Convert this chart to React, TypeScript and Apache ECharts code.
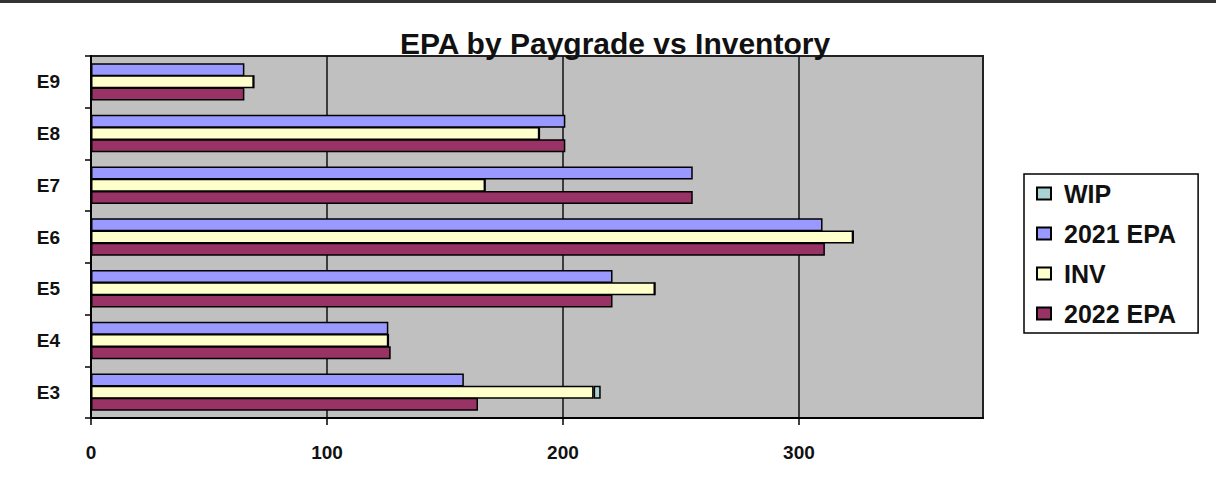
import React, { useEffect, useRef } from "react";
import * as echarts from "echarts";

const categories = ["E3", "E4", "E5", "E6", "E7", "E8", "E9"];
const epa2022 = [164, 127, 221, 311, 255, 201, 65];
const inv = [213, 126, 239, 323, 167, 190, 69];
const wip = [3, 0, 0, 0, 0, 0, 0];
const epa2021 = [158, 126, 221, 310, 255, 201, 65];
const xTicks = [0, 100, 200, 300];

export default function App() {
  const ref = useRef<HTMLDivElement>(null);
  useEffect(() => {
    document.body.style.margin = "0";
    const chart = echarts.init(ref.current!, null, { renderer: "svg" });
    const font = "Liberation Sans, Arial, sans-serif";
    const border = { borderColor: "#000", borderWidth: 1.5 };
    const bw = 13;
    const gap = "-6%";
    chart.setOption({
      animation: false,
      backgroundColor: "#fff",
      title: {
        text: "EPA by Paygrade vs Inventory",
        left: 610,
        textAlign: "center",
        top: 23,
        textStyle: { fontFamily: font, fontSize: 30, fontWeight: "bold", color: "#111" },
      },
      graphic: [
        { type: "rect", shape: { x: 0, y: 0, width: 1216, height: 3 }, style: { fill: "#333" } },
      ],
      legend: {
        orient: "vertical",
        left: 1024,
        top: 174,
        data: ["WIP", "2021 EPA", "INV", "2022 EPA"],
        itemWidth: 14,
        itemHeight: 12,
        itemGap: 15,
        icon: "rect",
        padding: [7, 22, 7, 12],
        borderColor: "#000",
        borderWidth: 1.5,
        textStyle: { fontFamily: font, fontSize: 25, fontWeight: "bold", color: "#111", padding: [0, 0, 0, 8] },
      },
      grid: {
        left: 91,
        right: 233,
        top: 56,
        bottom: 72,
        show: true,
        backgroundColor: "#C0C0C0",
        borderColor: "#222",
        borderWidth: 2,
      },
      xAxis: {
        type: "value",
        min: 0,
        max: 378,
        interval: 100,
        axisLine: { show: true, lineStyle: { color: "#000", width: 2 } },
        axisTick: { show: true, length: 7, customValues: xTicks, lineStyle: { color: "#000", width: 1.5 } },
        axisLabel: {
          customValues: xTicks,
          margin: 25,
          fontFamily: font,
          fontSize: 19,
          fontWeight: "bold",
          color: "#111",
        },
        splitLine: { show: true, lineStyle: { color: "#111", width: 1.5 } },
      },
      yAxis: {
        type: "category",
        data: categories,
        axisLine: { show: true, lineStyle: { color: "#000", width: 2 } },
        axisTick: { show: true, length: 6, lineStyle: { color: "#000", width: 1.5 } },
        axisLabel: { margin: 31, fontFamily: font, fontSize: 19, fontWeight: "bold", color: "#111" },
        splitLine: { show: false },
      },
      series: [
        { name: "2021 EPA", type: "bar", data: epa2021, barWidth: bw, barGap: gap, itemStyle: { color: "#9999FF", ...border } },
        { name: "INV", type: "bar", stack: "inv", data: inv, barWidth: bw, barGap: gap, itemStyle: { color: "#FFFFCC", ...border } },
        { name: "WIP", type: "bar", stack: "inv", data: wip, barWidth: bw, barGap: gap, itemStyle: { color: "#A9D3D3", ...border } },
        { name: "2022 EPA", type: "bar", data: epa2022, barWidth: bw, barGap: gap, itemStyle: { color: "#993366", ...border } },
      ],
    });
    return () => chart.dispose();
  }, []);
  return <div ref={ref} style={{ width: 1216, height: 490 }} />;
}
